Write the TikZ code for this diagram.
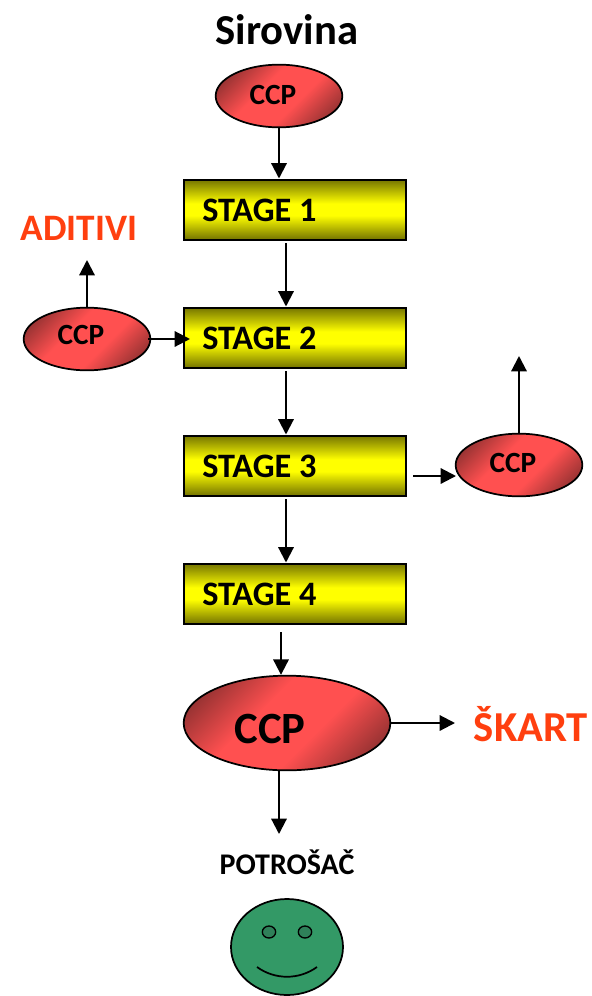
\documentclass[tikz,border=0pt]{standalone}
\usepackage{fontspec}
\setmainfont{Carlito}
\usetikzlibrary{arrows.meta,shapes.geometric}
\definecolor{ccpred}{HTML}{FF5050}
\definecolor{ccpdark}{HTML}{7A2A2A}
\definecolor{stageyel}{HTML}{FFFF00}
\definecolor{stagedark}{HTML}{757500}
\definecolor{facegreen}{HTML}{339966}
\definecolor{eyegreen}{HTML}{2F8059}
\definecolor{alertred}{HTML}{FF3F0F}
\pgfdeclareverticalshading{stageshade}{100bp}{
  color(0bp)=(stagedark); color(25bp)=(stagedark); color(45bp)=(stageyel);
  color(55bp)=(stageyel); color(75bp)=(stagedark); color(100bp)=(stagedark)}
\pgfdeclarehorizontalshading{ovalshade}{100bp}{
  color(0bp)=(ccpdark); color(18bp)=(ccpdark); color(41bp)=(ccpred);
  color(59bp)=(ccpred); color(82bp)=(ccpdark); color(100bp)=(ccpdark)}
\tikzset{
  stagebox/.style={draw=black,line width=1.5pt,minimum width=167pt,minimum height=45pt,inner sep=0pt,shade,shading=stageshade},
  stagetext/.style={font=\fontsize{25.7}{27}\selectfont\bfseries,anchor=west,inner sep=0pt},
  ccpoval/.style={ellipse,draw=black,line width=1.3pt,inner sep=0pt,shade,shading=ovalshade,shading angle=-45},
  smalloval/.style={ccpoval,minimum width=95pt,minimum height=47pt},
  bigoval/.style={ccpoval,minimum width=155pt,minimum height=71pt},
  ccpsmall/.style={inner sep=0pt,font=\fontsize{22}{24}\selectfont\bfseries},
  flow/.style={draw=black,line width=1.6pt,-{Triangle[length=11.5pt,width=11.5pt]}},
  redlabel/.style={text=alertred,inner sep=0pt,font=\fontsize{28}{30}\selectfont\bfseries},
}
\begin{document}
\begin{tikzpicture}[x=0.75pt,y=-0.75pt]
\useasboundingbox (0,0) rectangle (592,996);
% title
\node[inner sep=0pt,font=\fontsize{32}{34}\selectfont\bfseries] (title) at (287,30) {Sirovina};
% ovals
\node[smalloval] (c0) at (279,96) {};
\node[smalloval] (c1) at (87,339) {};
\node[smalloval] (c2) at (519,465) {};
\node[bigoval] (c3) at (287,723) {};
\node[ccpsmall] (c0t) at (273,95) {CCP};
\node[ccpsmall] (c1t) at (81,335) {CCP};
\node[ccpsmall] (c2t) at (513,463) {CCP};
\node[inner sep=0pt,font=\fontsize{33.5}{35}\selectfont\bfseries] (c3t) at (270,729) {CCP};
% stages
\node[stagebox] (s1) at (295,209.5) {};
\node[stagebox] (s2) at (295,337.5) {};
\node[stagebox] (s3) at (295,465.5) {};
\node[stagebox] (s4) at (295,593.5) {};
\node[stagetext] (t1) at (202,210.5) {STAGE 1};
\node[stagetext] (t2) at (202,338.5) {STAGE 2};
\node[stagetext] (t3) at (202,466.5) {STAGE 3};
\node[stagetext] (t4) at (202,594.5) {STAGE 4};
% labels
\node[redlabel] (adi) at (79,228) {ADITIVI};
\node[redlabel,font=\fontsize{32}{34}\selectfont\bfseries] (skart) at (531,724) {ŠKART};
\node[inner sep=0pt,font=\fontsize{22.5}{24}\selectfont\bfseries] (pot) at (287,862) {POTROŠAČ};
% free ends
\coordinate (a1) at (286,243);
\coordinate (a2) at (286,371);
\coordinate (a3) at (286,499);
\coordinate (a4) at (281,632);
\coordinate (up1) at (87,260);
\coordinate (up2) at (519,356);
\coordinate (b1) at (148,339);
\coordinate (b2) at (190,339);
\coordinate (r1) at (413,476);
\coordinate (r2) at (456,476);
\coordinate (k1) at (391,723);
\coordinate (k2) at (455,723);
\coordinate (d2) at (279,834);
% connectors
\draw[flow] (c0.south) -- (c0.south |- s1.north);
\draw[flow] (a1) -- (a1 |- s2.north);
\draw[flow] (a2) -- (a2 |- s3.north);
\draw[flow] (a3) -- (a3 |- s4.north);
\draw[flow] (a4) -- (a4 |- c3.north);
\draw[flow] (c1.north) -- (up1);
\draw[flow] (c2.north) -- (up2);
\draw[flow] (b1) -- (b2);
\draw[flow] (r1) -- (r2);
\draw[flow] (k1) -- (k2);
\draw[flow] (d2 |- c3.south) -- (d2);
% face
\node[ellipse,draw=black,line width=1.3pt,fill=facegreen,minimum width=84pt,minimum height=72pt,inner sep=0pt] (face) at (287,947) {};
\node[ellipse,draw=black,line width=1pt,fill=eyegreen,minimum width=10pt,minimum height=9pt,inner sep=0pt] (eye1) at (269,932) {};
\node[ellipse,draw=black,line width=1pt,fill=eyegreen,minimum width=10pt,minimum height=9pt,inner sep=0pt] (eye2) at (305,932) {};
\draw[black,line width=1.3pt] (257,967) .. controls (275,980) and (299,980) .. (317,967);
\end{tikzpicture}
\end{document}
